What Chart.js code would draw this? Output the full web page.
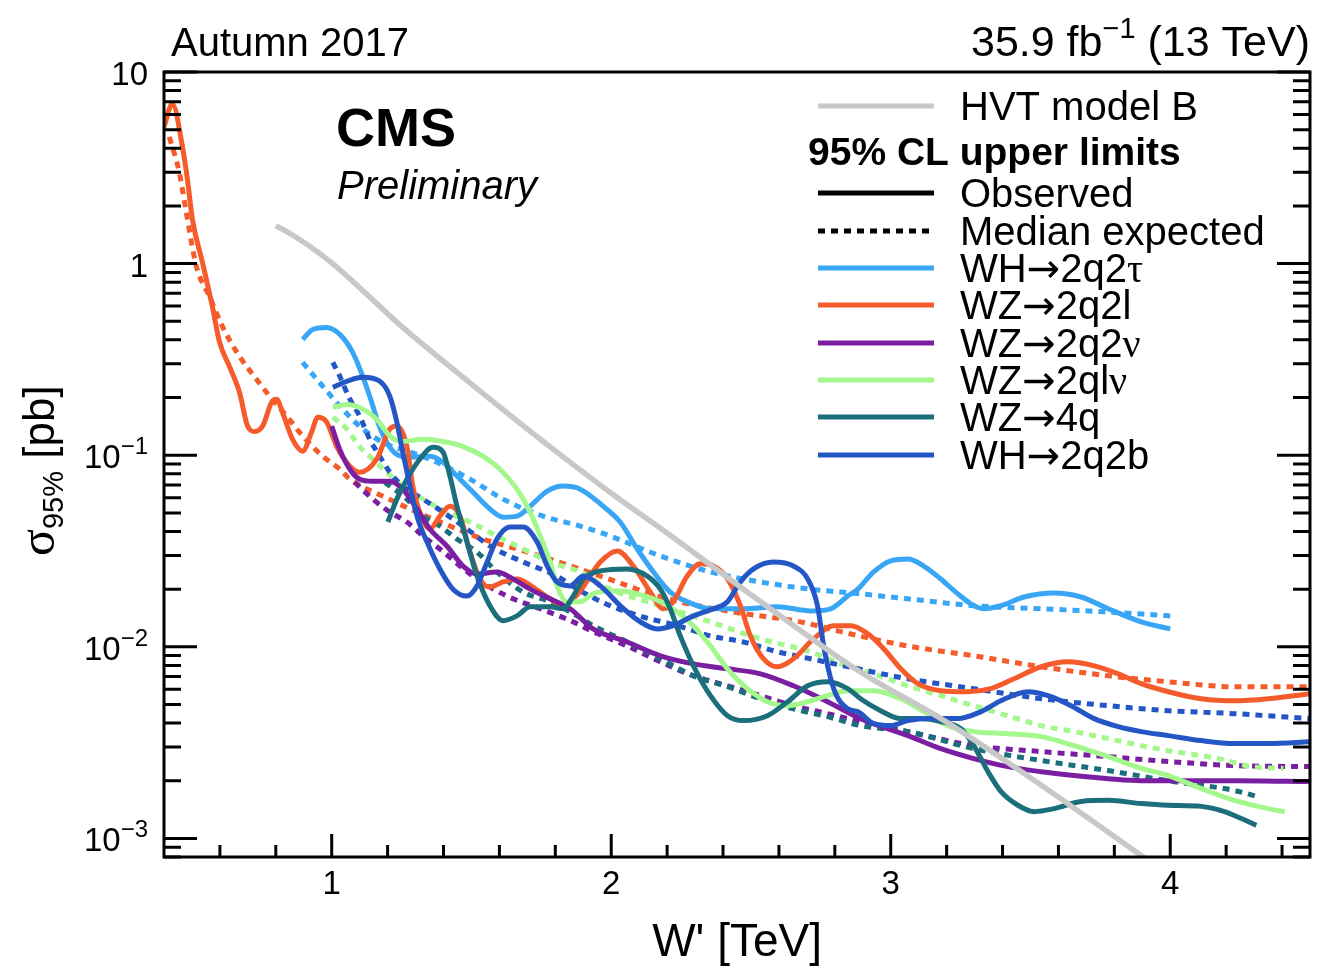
<!DOCTYPE html>
<html>
<head>
<meta charset="utf-8">
<title>W' limits</title>
<script src="https://cdn.jsdelivr.net/npm/chart.js@4.4.1/dist/chart.umd.min.js"></script>
<style>
  html, body { margin: 0; padding: 0; background: #fff; }
  #wrap { width: 1339px; height: 974px; }
</style>
</head>
<body>
<div id="wrap"><canvas id="c" width="1339" height="974"></canvas></div>
<script>
// ---- data: [W' mass (TeV), 95% CL upper limit (pb)] ----
const hvtModelB = [[0.80,1.58],[0.87,1.38],[1.00,1.01],[1.25,0.470],[1.51,0.229],[1.77,0.114],[2.02,0.0604],[2.18,0.0412],[2.53,0.0174],[2.89,0.00741],[3.18,0.00422],[3.54,0.00189],[3.93,0.00075]];

const wh2q2tauObs = [[0.896,0.402],[0.932,0.453],[0.982,0.464],[1.029,0.427],[1.075,0.344],[1.111,0.258],[1.143,0.189],[1.165,0.149],[1.197,0.117],[1.233,0.101],[1.28,0.0977],[1.351,0.0988],[1.398,0.092],[1.448,0.0778],[1.505,0.0642],[1.566,0.0524],[1.613,0.0475],[1.663,0.0481],[1.71,0.0542],[1.771,0.0649],[1.828,0.069],[1.889,0.0665],[1.971,0.0542],[2.032,0.0448],[2.093,0.0324],[2.151,0.0246],[2.211,0.0193],[2.272,0.0172],[2.355,0.0158],[2.473,0.0158],[2.595,0.0162],[2.713,0.0154],[2.785,0.0158],[2.846,0.0184],[2.882,0.02],[2.939,0.0246],[3.0,0.0281],[3.061,0.0287],[3.118,0.0264],[3.179,0.0226],[3.24,0.0189],[3.297,0.0164],[3.333,0.0158],[3.394,0.0164],[3.477,0.0182],[3.584,0.0191],[3.681,0.0182],[3.778,0.0158],[3.896,0.0135],[4.0,0.0124]];
const wh2q2tauExp = [[0.896,0.305],[0.968,0.229],[1.039,0.174],[1.111,0.137],[1.197,0.114],[1.28,0.104],[1.376,0.092],[1.495,0.075],[1.613,0.059],[1.756,0.0481],[1.889,0.0427],[1.996,0.0379],[2.176,0.0298],[2.355,0.0246],[2.534,0.0218],[2.713,0.02],[2.892,0.0189],[3.061,0.0178],[3.297,0.0164],[3.538,0.0158],[3.778,0.0152],[4.0,0.0145]];

const wz2q2lObs = [[0.40,5.17],[0.43,6.81],[0.466,4.07],[0.484,2.74],[0.502,1.69],[0.538,1.01],[0.573,0.597],[0.599,0.388],[0.634,0.291],[0.67,0.213],[0.699,0.142],[0.724,0.133],[0.753,0.142],[0.785,0.189],[0.803,0.196],[0.824,0.167],[0.86,0.121],[0.896,0.105],[0.928,0.132],[0.95,0.158],[0.982,0.149],[1.018,0.111],[1.065,0.0877],[1.10,0.0815],[1.161,0.0953],[1.208,0.137],[1.233,0.142],[1.269,0.111],[1.29,0.069],[1.315,0.0505],[1.351,0.0412],[1.387,0.0481],[1.423,0.0542],[1.459,0.0481],[1.495,0.0312],[1.53,0.0226],[1.566,0.0205],[1.613,0.0218],[1.663,0.0226],[1.72,0.0205],[1.781,0.0178],[1.828,0.0164],[1.878,0.0187],[1.961,0.0277],[2.022,0.0316],[2.079,0.0264],[2.14,0.0193],[2.186,0.0158],[2.222,0.0172],[2.272,0.0234],[2.319,0.0271],[2.366,0.0264],[2.416,0.0226],[2.462,0.0164],[2.498,0.0114],[2.545,0.00866],[2.595,0.00787],[2.652,0.00866],[2.724,0.011],[2.796,0.0129],[2.857,0.0129],[2.918,0.0117],[2.975,0.00977],[3.036,0.00768],[3.097,0.00642],[3.179,0.0059],[3.276,0.00583],[3.358,0.00605],[3.441,0.00681],[3.538,0.00787],[3.634,0.00835],[3.728,0.00796],[3.814,0.00723],[3.896,0.00642],[3.993,0.00583],[4.111,0.00536],[4.229,0.00523],[4.351,0.00536],[4.50,0.00569]];
const wz2q2lExp = [[0.419,4.59],[0.455,2.98],[0.48,1.84],[0.516,0.965],[0.563,0.673],[0.609,0.47],[0.67,0.328],[0.731,0.249],[0.778,0.203],[0.839,0.16],[0.896,0.126],[0.968,0.0988],[1.029,0.0845],[1.065,0.075],[1.183,0.0611],[1.305,0.0505],[1.423,0.0427],[1.541,0.0365],[1.663,0.0324],[1.781,0.0287],[1.961,0.0234],[2.201,0.0178],[2.437,0.0152],[2.677,0.0135],[2.821,0.012],[3.061,0.0101],[3.297,0.00898],[3.538,0.00787],[3.778,0.00706],[3.993,0.00657],[4.229,0.00619],[4.50,0.00619]];

const wz2q2nuObs = [[1.0,0.142],[1.029,0.107],[1.065,0.0845],[1.10,0.075],[1.147,0.0732],[1.208,0.0732],[1.254,0.0665],[1.305,0.0524],[1.351,0.0412],[1.412,0.0336],[1.47,0.0264],[1.52,0.024],[1.591,0.0246],[1.649,0.0226],[1.71,0.02],[1.781,0.0178],[1.853,0.0158],[1.935,0.0124],[2.057,0.0106],[2.176,0.00898],[2.294,0.00815],[2.416,0.00768],[2.534,0.00723],[2.652,0.00626],[2.774,0.00517],[2.892,0.00422],[3.061,0.00344],[3.179,0.00294],[3.297,0.00261],[3.419,0.00237],[3.538,0.00223],[3.656,0.00213],[3.778,0.00205],[3.896,0.002],[4.229,0.002],[4.50,0.00198]];
const wz2q2nuExp = [[1.082,0.0723],[1.147,0.059],[1.208,0.0505],[1.269,0.0448],[1.326,0.0379],[1.387,0.0324],[1.505,0.0234],[1.627,0.0184],[1.746,0.0158],[1.864,0.0135],[1.935,0.012],[2.057,0.0101],[2.176,0.00835],[2.294,0.00706],[2.416,0.00626],[2.534,0.00556],[2.652,0.00493],[2.774,0.00448],[2.892,0.00407],[3.061,0.00361],[3.297,0.00305],[3.538,0.00284],[3.778,0.00267],[3.993,0.00252],[4.229,0.0024],[4.50,0.00237]];

const wz2qlnuObs = [[1.004,0.178],[1.054,0.184],[1.111,0.174],[1.161,0.154],[1.208,0.126],[1.254,0.118],[1.326,0.121],[1.398,0.118],[1.47,0.111],[1.541,0.0988],[1.602,0.0845],[1.663,0.0665],[1.71,0.0505],[1.746,0.0379],[1.781,0.0277],[1.806,0.0208],[1.842,0.0172],[1.889,0.0172],[1.935,0.0189],[2.022,0.0196],[2.093,0.0189],[2.176,0.0172],[2.237,0.0152],[2.294,0.0129],[2.355,0.0101],[2.416,0.00768],[2.487,0.00605],[2.559,0.00517],[2.631,0.00493],[2.703,0.00517],[2.774,0.00556],[2.846,0.0059],[2.939,0.0059],[3.036,0.00536],[3.118,0.00459],[3.204,0.00388],[3.297,0.00361],[3.419,0.00352],[3.538,0.0034],[3.656,0.00305],[3.778,0.00267],[3.896,0.00232],[3.993,0.00213],[4.111,0.00182],[4.229,0.00158],[4.351,0.00143],[4.409,0.00138]];
const wz2qlnuExp = [[1.004,0.158],[1.054,0.137],[1.10,0.111],[1.147,0.0953],[1.197,0.0815],[1.254,0.069],[1.326,0.059],[1.412,0.0505],[1.495,0.0448],[1.591,0.0379],[1.685,0.0324],[1.781,0.0277],[1.889,0.0246],[1.996,0.02],[2.176,0.0164],[2.355,0.0135],[2.534,0.011],[2.713,0.00942],[2.821,0.00815],[2.939,0.00723],[3.061,0.00626],[3.179,0.00556],[3.297,0.00493],[3.419,0.00437],[3.538,0.00388],[3.656,0.00361],[3.778,0.00332],[3.896,0.00305],[3.993,0.00287],[4.172,0.00261],[4.29,0.00237],[4.405,0.00232]];

const wz4qObs = [[1.201,0.0448],[1.233,0.059],[1.269,0.075],[1.315,0.0953],[1.362,0.11],[1.398,0.104],[1.423,0.0778],[1.448,0.0542],[1.484,0.0352],[1.52,0.0234],[1.566,0.0164],[1.613,0.0137],[1.663,0.0145],[1.71,0.0162],[1.781,0.0162],[1.828,0.0158],[1.864,0.0184],[1.90,0.0226],[1.961,0.0249],[2.057,0.0255],[2.129,0.0234],[2.176,0.02],[2.211,0.0158],[2.247,0.0114],[2.294,0.00796],[2.355,0.00556],[2.416,0.00437],[2.473,0.00412],[2.559,0.00437],[2.631,0.00517],[2.703,0.00626],[2.774,0.00657],[2.846,0.00605],[2.892,0.00536],[2.964,0.00464],[3.036,0.00422],[3.108,0.00422],[3.179,0.00407],[3.251,0.00374],[3.297,0.00305],[3.348,0.00223],[3.394,0.00176],[3.455,0.00149],[3.513,0.00138],[3.584,0.00143],[3.681,0.00156],[3.778,0.00158],[3.896,0.00152],[3.993,0.00149],[4.111,0.00147],[4.194,0.00138],[4.254,0.00127],[4.308,0.00117]];
const wz4qExp = [[1.19,0.0723],[1.269,0.059],[1.326,0.0481],[1.387,0.0427],[1.448,0.0365],[1.52,0.0312],[1.591,0.0246],[1.685,0.0193],[1.781,0.0172],[1.878,0.0145],[1.935,0.0129],[2.057,0.0106],[2.176,0.00866],[2.294,0.00706],[2.416,0.00619],[2.534,0.00536],[2.652,0.00475],[2.774,0.00432],[2.892,0.00388],[3.061,0.00361],[3.297,0.00294],[3.538,0.00255],[3.778,0.00226],[3.993,0.002],[4.229,0.00178],[4.308,0.00166]];

const wh2q2bObs = [[1.004,0.226],[1.054,0.243],[1.111,0.255],[1.172,0.243],[1.208,0.203],[1.233,0.149],[1.254,0.104],[1.28,0.069],[1.305,0.0481],[1.341,0.0352],[1.387,0.0255],[1.434,0.02],[1.484,0.0184],[1.52,0.0208],[1.556,0.0277],[1.591,0.0365],[1.638,0.0422],[1.685,0.0422],[1.735,0.0352],[1.771,0.0264],[1.806,0.0218],[1.853,0.0208],[1.90,0.0234],[1.961,0.0208],[2.032,0.0164],[2.104,0.0135],[2.165,0.0124],[2.222,0.0129],[2.294,0.0145],[2.366,0.0158],[2.416,0.0172],[2.462,0.0218],[2.509,0.0255],[2.581,0.0277],[2.652,0.0264],[2.703,0.0226],[2.738,0.0164],[2.76,0.0101],[2.796,0.00605],[2.846,0.00475],[2.882,0.00459],[2.939,0.00397],[3.0,0.00388],[3.061,0.00412],[3.143,0.00422],[3.24,0.00422],[3.323,0.00459],[3.394,0.00523],[3.491,0.00583],[3.563,0.00556],[3.645,0.00493],[3.728,0.00422],[3.814,0.00383],[3.896,0.00361],[3.993,0.00344],[4.111,0.00324],[4.229,0.00313],[4.351,0.00313],[4.50,0.0032]];
const wh2q2bExp = [[1.004,0.305],[1.029,0.258],[1.065,0.196],[1.10,0.16],[1.136,0.121],[1.172,0.0988],[1.208,0.0815],[1.254,0.069],[1.326,0.059],[1.398,0.0505],[1.484,0.0412],[1.566,0.0336],[1.685,0.0277],[1.806,0.0234],[1.889,0.0196],[1.996,0.0164],[2.115,0.0143],[2.237,0.0129],[2.355,0.0114],[2.473,0.0106],[2.595,0.00942],[2.713,0.00866],[2.832,0.00796],[3.061,0.00681],[3.297,0.00605],[3.538,0.00536],[3.778,0.00493],[3.993,0.00464],[4.229,0.00448],[4.50,0.00422]];

// ---- axis definitions ----
const massRange = [0.4, 4.5];
const xsecRange = [8e-4, 10];
const xMajorTicks = [1, 2, 3, 4];
const xTickLabels = ['1', '2', '3', '4'];
const yMajorTicks = [10, 1, 0.1, 0.01, 0.001];
const yTickBase = ['10', '1', '10', '10', '10'];
const yTickExp = ['', '', '\u22121', '\u22122', '\u22123'];

// ---- text ----
const legendLabels = ['HVT model B', '95% CL upper limits', 'Observed', 'Median expected',
  'WH\u21922q2\u03c4', 'WZ\u21922q2l', 'WZ\u21922q2\u03bd', 'WZ\u21922ql\u03bd', 'WZ\u21924q', 'WH\u21922q2b'];

// ---- styles ----
const SANS = '"Liberation Sans", Arial, Helvetica, sans-serif';
const SERIF = '"Liberation Serif", "Times New Roman", serif';
const ARROW = '"DejaVu Sans", sans-serif';
const C_HVT = '#c8c8c8';
const C_TAU = '#38a6f4';
const C_2L = '#f55b2b';
const C_NU = '#7b1fa2';
const C_LNU = '#a3f78c';
const C_4Q = '#1b6f7c';
const C_2B = '#2457c5';
const DASH = [7, 6];
const LW = 5;

const toXY = arr => arr.map(p => ({ x: p[0], y: p[1] }));

function series(label, pts, color, dashed, order, width) {
  return {
    label, data: toXY(pts), borderColor: color, backgroundColor: color,
    borderWidth: width || LW, borderDash: dashed ? DASH : [],
    pointRadius: 0, pointHoverRadius: 0, fill: false,
    cubicInterpolationMode: 'monotone', clip: 0, order,
    borderJoinStyle: 'round'
  };
}

const datasets = [
  series('HVT model B', hvtModelB, C_HVT, false, 0, 5.5),
  series('WH\u21922q2\u03c4 obs', wh2q2tauObs, C_TAU, false, 6),
  series('WZ\u21922q2l obs', wz2q2lObs, C_2L, false, 5),
  series('WZ\u21922q2\u03bd obs', wz2q2nuObs, C_NU, false, 4),
  series('WZ\u21922ql\u03bd obs', wz2qlnuObs, C_LNU, false, 3),
  series('WZ\u21924q obs', wz4qObs, C_4Q, false, 2),
  series('WH\u21922q2b obs', wh2q2bObs, C_2B, false, 1),
  series('WH\u21922q2\u03c4 exp', wh2q2tauExp, C_TAU, true, 12),
  series('WZ\u21922q2l exp', wz2q2lExp, C_2L, true, 11),
  series('WZ\u21922q2\u03bd exp', wz2q2nuExp, C_NU, true, 10),
  series('WZ\u21922ql\u03bd exp', wz2qlnuExp, C_LNU, true, 9),
  series('WZ\u21924q exp', wz4qExp, C_4Q, true, 8),
  series('WH\u21922q2b exp', wh2q2bExp, C_2B, true, 7)
];

// draws a run of text pieces with their own fonts / vertical offsets
function drawRich(ctx, parts, x, y, align) {
  let w = 0;
  for (const p of parts) { ctx.font = p.font; p.w = ctx.measureText(p.t).width; w += p.w; }
  let cx = align === 'right' ? x - w : (align === 'center' ? x - w / 2 : x);
  ctx.textAlign = 'left';
  ctx.textBaseline = 'alphabetic';
  for (const p of parts) { ctx.font = p.font; ctx.fillText(p.t, cx, y + (p.dy || 0)); cx += p.w; }
}

// Greek letters in a serif face and arrows in a wider face, as in the ROOT symbol font
function symbolParts(str, size) {
  return str.split(/([\u03c4\u03bd\u03c3\u2192])/).filter(s => s.length).map(s => {
    let face = SANS;
    if (/[\u03c4\u03bd\u03c3]/.test(s)) face = SERIF;
    else if (s === '\u2192') face = ARROW;
    return { t: s, font: size + 'px ' + face };
  });
}

// ROOT-style frame with inward ticks, labels, titles and legend
const rootFrame = {
  id: 'rootFrame',
  afterDraw(chart) {
    const { ctx, chartArea: a, scales: { x, y } } = chart;
    ctx.save();
    ctx.strokeStyle = '#000';
    ctx.fillStyle = '#000';
    ctx.lineWidth = 3;
    ctx.lineCap = 'butt';

    // x ticks (bottom only)
    const xMinor = [];
    for (let v = 0.6; v < 4.5; v += 0.2) {
      const r = Math.round(v * 10) / 10;
      if (!xMajorTicks.includes(r)) xMinor.push(r);
    }
    ctx.beginPath();
    for (const v of xMinor) { const px = x.getPixelForValue(v); ctx.moveTo(px, a.bottom); ctx.lineTo(px, a.bottom - 12); }
    for (const v of xMajorTicks) { const px = x.getPixelForValue(v); ctx.moveTo(px, a.bottom); ctx.lineTo(px, a.bottom - 23); }
    ctx.stroke();

    // y ticks (left and right)
    const yMinor = [];
    for (let e = -4; e <= 0; e++) for (let m = 2; m <= 9; m++) {
      const v = m * Math.pow(10, e);
      if (v >= xsecRange[0] && v < xsecRange[1]) yMinor.push(v);
    }
    ctx.beginPath();
    for (const v of yMinor) {
      const py = y.getPixelForValue(v);
      ctx.moveTo(a.left, py); ctx.lineTo(a.left + 17, py);
      ctx.moveTo(a.right, py); ctx.lineTo(a.right - 17, py);
    }
    for (const v of yMajorTicks) {
      const py = y.getPixelForValue(v);
      ctx.moveTo(a.left, py); ctx.lineTo(a.left + 33, py);
      ctx.moveTo(a.right, py); ctx.lineTo(a.right - 33, py);
    }
    ctx.stroke();

    // frame
    ctx.strokeRect(a.left, a.top, a.right - a.left, a.bottom - a.top);

    // tick labels
    ctx.font = '33px ' + SANS;
    ctx.textAlign = 'center';
    ctx.textBaseline = 'alphabetic';
    xMajorTicks.forEach((v, i) => ctx.fillText(xTickLabels[i], x.getPixelForValue(v), 894));
    yMajorTicks.forEach((v, i) => {
      const py = y.getPixelForValue(v);
      const parts = [{ t: yTickBase[i], font: '33px ' + SANS }];
      if (yTickExp[i]) parts.push({ t: yTickExp[i], font: '24px ' + SANS, dy: -14 });
      drawRich(ctx, parts, 148, py + 13, 'right');
    });

    // axis titles
    drawRich(ctx, [{ t: "W' [TeV]", font: '46px ' + SANS }], 822, 956, 'right');
    ctx.save();
    ctx.translate(54, 556);
    ctx.rotate(-Math.PI / 2);
    drawRich(ctx, [
      { t: '\u03c3', font: '50px ' + SERIF },
      { t: '95%', font: '29px ' + SANS, dy: 9 },
      { t: ' [pb]', font: '44px ' + SANS }
    ], 0, 0, 'left');
    ctx.restore();

    // header texts
    drawRich(ctx, [{ t: 'Autumn 2017', font: '40px ' + SANS }], 171, 56, 'left');
    drawRich(ctx, [
      { t: '35.9 fb', font: '43px ' + SANS },
      { t: '\u22121', font: '29px ' + SANS, dy: -18 },
      { t: ' (13 TeV)', font: '43px ' + SANS }
    ], 1310, 56, 'right');
    drawRich(ctx, [{ t: 'CMS', font: 'bold 54px ' + SANS }], 336, 146, 'left');
    drawRich(ctx, [{ t: 'Preliminary', font: 'italic 40px ' + SANS }], 337, 199, 'left');

    // legend
    const lx0 = 818, lx1 = 934, tx = 960;
    const rows = [
      { y: 106, color: C_HVT, dash: [] },
      null,
      { y: 193, color: '#000', dash: [] },
      { y: 231, color: '#000', dash: DASH },
      { y: 268, color: C_TAU, dash: [] },
      { y: 305, color: C_2L, dash: [] },
      { y: 343, color: C_NU, dash: [] },
      { y: 380, color: C_LNU, dash: [] },
      { y: 417, color: C_4Q, dash: [] },
      { y: 455, color: C_2B, dash: [] }
    ];
    rows.forEach((r, i) => {
      if (!r) {
        drawRich(ctx, [{ t: legendLabels[i], font: 'bold 39px ' + SANS }], 808, 165, 'left');
        return;
      }
      ctx.save();
      ctx.strokeStyle = r.color;
      ctx.lineWidth = 5;
      ctx.setLineDash(r.dash);
      ctx.beginPath(); ctx.moveTo(lx0, r.y); ctx.lineTo(lx1, r.y); ctx.stroke();
      ctx.restore();
      ctx.fillStyle = '#000';
      drawRich(ctx, symbolParts(legendLabels[i], 40), tx, r.y + 14, 'left');
    });
    ctx.restore();
  }
};

new Chart(document.getElementById('c'), {
  type: 'line',
  data: { datasets },
  options: {
    responsive: false,
    animation: false,
    devicePixelRatio: 1,
    layout: { padding: { left: 164, right: 29, top: 72, bottom: 117 } },
    scales: {
      x: { type: 'linear', min: massRange[0], max: massRange[1], display: false },
      y: { type: 'logarithmic', min: xsecRange[0], max: xsecRange[1], display: false }
    },
    plugins: { legend: { display: false }, tooltip: { enabled: false } },
    events: []
  },
  plugins: [rootFrame]
});
</script>
</body>
</html>
